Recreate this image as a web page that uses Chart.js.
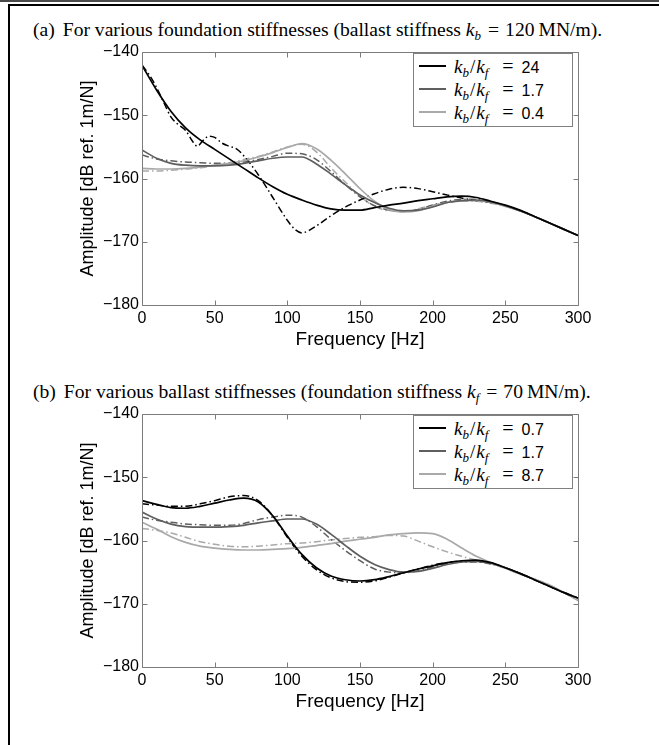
<!DOCTYPE html>
<html>
<head>
<meta charset="utf-8">
<script src="https://cdn.jsdelivr.net/npm/chart.js@4.4.1/dist/chart.umd.min.js"></script>
<style>
  html, body { margin: 0; padding: 0; background: #fff; }
  body { width: 659px; height: 745px; position: relative; overflow: hidden; }
  .rule { position: absolute; left: 0; top: 0; width: 659px; height: 2px; background: #4a4a4a; }
  .frame { position: absolute; left: 8px; top: 4px; width: 700px; height: 800px;
           border-left: 2px solid #000; border-top: 2px solid #000; }
  .caption { position: absolute; left: 33px; font-family: "Liberation Serif", "Times New Roman", serif;
             font-size: 19.6px; line-height: 22px; white-space: nowrap; color: #000; }
  .caption .tag { margin-right: 8px; }
  .caption .eq { margin: 0 6px 0 7px; }
  .caption .unit { margin-left: 4px; }
  .m { font-style: italic; }
  .sub { font-size: 13px; font-style: italic; position: relative; top: 4px; }
  .panel { position: absolute; left: 0; width: 659px; height: 360px; }
  .legend { position: absolute; left: 413px; width: 158px; height: 72px; border: 1px solid #808080;
            background: #fff; font-family: "Liberation Serif", serif; color: #000; }
  .row { position: absolute; left: 0; height: 22px; width: 100%; }
  .swatch { position: absolute; left: 5px; top: 10px; width: 27px; height: 0; border-top: 2px solid #000; }
  .label { position: absolute; left: 40px; top: 0; font-size: 19px; line-height: 22px; white-space: nowrap; }
  .label .sl { margin: 0 1px; }
  .label .eq { margin: 0 8px 0 14px; font-size: 20px; }
  .num { font-family: "Liberation Sans", Arial, sans-serif; font-size: 16px; }
</style>
</head>
<body>
<div class="rule"></div>
<div class="frame"></div>

<div class="caption" style="top:19px"><span class="tag">(a)</span>For various foundation stiffnesses (ballast stiffness <span class="m">k</span><span class="sub">b</span><span class="eq">=</span>120<span class="unit">MN/m).</span></div>
<div class="panel" style="top:0px"><canvas id="chartA" width="659" height="360"></canvas></div>
<div class="legend" id="legendA" style="top:53px"></div>

<div class="caption" style="top:381px"><span class="tag">(b)</span>For various ballast stiffnesses (foundation stiffness <span class="m">k</span><span class="sub">f</span><span class="eq">=</span>70<span class="unit">MN/m).</span></div>
<div class="panel" style="top:362px"><canvas id="chartB" width="659" height="360"></canvas></div>
<div class="legend" id="legendB" style="top:415px"></div>

<script>
// Frequency grid in Hz (10 Hz steps) shared by most curves
const freqHz = [0,10,20,30,40,50,60,70,80,90,100,110,120,130,140,150,160,170,180,190,200,210,220,230,240,250,260,270,280,290,300];

// Finer grid for the k_b/k_f = 24 dash-dot curve, which has sharp features
const freqFineHz = [0,5,10,15,20,25,30,35,38,42,46,50,55,60,65,70,80,90,100,105,110,115,120,
                    130,140,150,160,170,180,190,200,210,220,230,240,250,260,270,280,290,300];

// Y axis ticks (dB) and X axis ticks (Hz)
const ampTicks = [-180,-170,-160,-150,-140];
const freqTicks = [0,50,100,150,200,250,300];

// (a) various foundation stiffnesses, kb = 120 MN/m
const ratiosA = ['24', '1.7', '0.4'];
const aSolid24 = [-142.1,-146.0,-149.4,-152.0,-153.9,-155.4,-156.9,-158.4,-159.9,-161.3,-162.5,-163.4,-164.2,-164.8,-165.0,-165.0,-164.6,-164.2,-163.9,-163.5,-163.2,-162.9,-162.8,-163.0,-163.6,-164.2,-165.0,-166.0,-167.0,-168.0,-169.0];
const aDash24 = [-142.1,-143.6,-145.6,-148.0,-150.3,-151.5,-152.4,-154.2,-154.9,-154.0,-153.3,-153.5,-154.4,-154.9,-155.3,-156.4,
                 -159.4,-163.0,-166.6,-168.0,-168.6,-168.2,-167.5,
                 -165.9,-164.5,-163.4,-162.4,-161.7,-161.4,-161.6,-162.1,-162.6,-163.1,-163.5,-163.8,-164.3,-165.1,-166.0,-167.0,-168.0,-169.0];
const aSolid17 = [-155.5,-156.8,-157.6,-157.9,-158.0,-158.0,-157.9,-157.6,-157.2,-156.8,-156.6,-156.6,-157.7,-159.3,-161.0,-162.6,-163.8,-164.7,-165.1,-165.0,-164.5,-163.8,-163.5,-163.4,-163.7,-164.3,-165.1,-166.0,-167.0,-168.0,-169.0];
const aDash17 = [-156.3,-156.9,-157.2,-157.4,-157.5,-157.6,-157.6,-157.4,-157.0,-156.5,-156.0,-156.1,-157.0,-158.9,-161.0,-162.9,-164.3,-165.0,-165.2,-164.9,-164.2,-163.6,-163.3,-163.3,-163.7,-164.3,-165.1,-166.0,-167.0,-168.0,-169.0];
const aSolid04 = [-158.4,-158.5,-158.5,-158.4,-158.2,-157.9,-157.6,-157.2,-156.6,-155.9,-155.1,-154.5,-155.3,-157.1,-159.3,-161.6,-163.6,-164.9,-165.3,-165.1,-164.4,-163.8,-163.5,-163.5,-163.8,-164.4,-165.1,-166.0,-167.0,-168.0,-169.0];
const aDash04 = [-158.8,-158.8,-158.7,-158.5,-158.3,-157.9,-157.5,-157.0,-156.5,-155.8,-155.0,-154.6,-155.8,-158.3,-160.6,-162.8,-164.4,-165.1,-165.2,-164.8,-164.2,-163.8,-163.6,-163.6,-163.9,-164.4,-165.1,-166.0,-167.0,-168.0,-169.0];

// (b) various ballast stiffnesses, kf = 70 MN/m
const ratiosB = ['0.7', '1.7', '8.7'];
const bSolid07 = [-153.7,-154.3,-154.8,-154.9,-154.6,-154.1,-153.6,-153.3,-153.9,-156.1,-159.3,-162.2,-164.3,-165.6,-166.2,-166.4,-166.2,-165.7,-165.1,-164.5,-164.0,-163.5,-163.2,-163.1,-163.5,-164.3,-165.2,-166.2,-167.2,-168.2,-169.1];
const bDash07 = [-154.2,-154.4,-154.6,-154.6,-154.2,-153.7,-153.1,-152.9,-153.7,-156.1,-159.5,-162.5,-164.6,-165.9,-166.5,-166.6,-166.4,-165.8,-165.1,-164.5,-163.9,-163.5,-163.3,-163.3,-163.6,-164.3,-165.2,-166.2,-167.2,-168.2,-169.1];
const bSolid17 = [-155.5,-156.6,-157.4,-157.8,-157.9,-157.9,-157.8,-157.6,-157.2,-156.9,-156.6,-156.6,-157.4,-159.0,-160.8,-162.5,-163.8,-164.6,-165.0,-164.9,-164.4,-163.8,-163.4,-163.3,-163.6,-164.3,-165.2,-166.2,-167.2,-168.2,-169.1];
const bDash17 = [-156.3,-156.8,-157.1,-157.4,-157.5,-157.6,-157.6,-157.3,-156.7,-156.3,-156.0,-156.3,-157.8,-159.8,-161.6,-163.2,-164.5,-165.0,-165.1,-164.8,-164.2,-163.7,-163.4,-163.4,-163.7,-164.3,-165.2,-166.2,-167.2,-168.2,-169.1];
const bSolid87 = [-157.1,-158.2,-159.4,-160.3,-160.9,-161.2,-161.4,-161.5,-161.5,-161.4,-161.3,-161.1,-160.8,-160.5,-160.1,-159.8,-159.5,-159.1,-158.9,-158.8,-158.9,-159.8,-161.2,-162.5,-163.5,-164.4,-165.3,-166.1,-167.0,-168.2,-169.5];
const bDash87 = [-158.1,-158.4,-158.8,-159.5,-160.2,-160.6,-160.9,-161.0,-160.9,-160.7,-160.5,-160.4,-160.2,-159.9,-159.7,-159.5,-159.4,-159.2,-159.3,-160.1,-161.0,-161.8,-162.5,-163.1,-163.7,-164.4,-165.3,-166.1,-167.0,-168.2,-169.5];

const lineColors = ['#000000', '#5e5e5e', '#a9a9a9'];
const dashDot = [7, 3, 1.5, 3];
const sansFont = '"Liberation Sans", Arial, Helvetica, sans-serif';

function points(xs, ys) {
  return xs.map((x, i) => ({ x: x, y: ys[i] }));
}

function solid(xs, ys, color) {
  return { data: points(xs, ys), borderColor: color, borderWidth: 1.7, pointRadius: 0,
           cubicInterpolationMode: 'monotone', fill: false };
}
function dashed(xs, ys, color) {
  return { data: points(xs, ys), borderColor: color, borderWidth: 1.5, borderDash: dashDot,
           pointRadius: 0, cubicInterpolationMode: 'monotone', fill: false };
}

// Axes box with inward tick marks on all four sides
const boxTicks = {
  id: 'boxTicks',
  afterDatasetsDraw(chart) {
    const { ctx, chartArea: { left, right, top, bottom }, scales: { x, y } } = chart;
    ctx.save();
    ctx.strokeStyle = '#7c7c7c';
    ctx.lineWidth = 1;
    const L = Math.round(left) + 0.5, R = Math.round(right) + 0.5;
    const T = Math.round(top) + 0.5, B = Math.round(bottom) + 0.5;
    ctx.beginPath();
    ctx.rect(L, T, R - L, B - T);
    const len = 5;
    freqTicks.forEach(v => {
      const px = Math.round(x.getPixelForValue(v)) + 0.5;
      ctx.moveTo(px, B); ctx.lineTo(px, B - len);
      ctx.moveTo(px, T); ctx.lineTo(px, T + len);
    });
    ampTicks.forEach(v => {
      const py = Math.round(y.getPixelForValue(v)) + 0.5;
      ctx.moveTo(L, py); ctx.lineTo(L + len, py);
      ctx.moveTo(R, py); ctx.lineTo(R - len, py);
    });
    ctx.stroke();
    ctx.restore();
  }
};

function makeChart(id, datasets) {
  return new Chart(document.getElementById(id), {
    type: 'line',
    data: { datasets: datasets },
    plugins: [boxTicks],
    options: {
      responsive: false,
      animation: false,
      devicePixelRatio: 1,
      layout: { padding: { left: 66, right: 81, top: 52, bottom: 5 } },
      plugins: { legend: { display: false }, tooltip: { enabled: false } },
      scales: {
        x: {
          type: 'linear', min: 0, max: 300,
          afterFit(scale) { scale.height = 50; },
          afterBuildTicks(scale) { scale.ticks = freqTicks.map(v => ({ value: v })); },
          grid: { display: false, drawTicks: false }, border: { display: false },
          ticks: { padding: 4, color: '#000', maxRotation: 0, autoSkip: false,
                   font: { family: sansFont, size: 16 } },
          title: { display: true, text: 'Frequency [Hz]', color: '#000',
                   padding: { top: 0, bottom: 3.6 }, font: { family: sansFont, size: 19 } }
        },
        y: {
          type: 'linear', min: -180, max: -140,
          afterFit(scale) { scale.width = 76; },
          afterBuildTicks(scale) { scale.ticks = ampTicks.map(v => ({ value: v })); },
          grid: { display: false, drawTicks: false }, border: { display: false },
          ticks: { padding: 3, color: '#000', autoSkip: false,
                   font: { family: sansFont, size: 16 },
                   callback: v => String(v).replace('-', '\u2212') },
          title: { display: true, text: 'Amplitude [dB ref. 1m/N]', color: '#000',
                   padding: { top: 11.2, bottom: 0 }, font: { family: sansFont, size: 18 } }
        }
      }
    }
  });
}

makeChart('chartA', [
  solid(freqHz, aSolid24, lineColors[0]),
  solid(freqHz, aSolid17, lineColors[1]),
  solid(freqHz, aSolid04, lineColors[2]),
  dashed(freqFineHz, aDash24, lineColors[0]),
  dashed(freqHz, aDash17, lineColors[1]),
  dashed(freqHz, aDash04, lineColors[2])
]);

makeChart('chartB', [
  solid(freqHz, bSolid07, lineColors[0]),
  solid(freqHz, bSolid17, lineColors[1]),
  solid(freqHz, bSolid87, lineColors[2]),
  dashed(freqHz, bDash07, lineColors[0]),
  dashed(freqHz, bDash17, lineColors[1]),
  dashed(freqHz, bDash87, lineColors[2])
]);

// Legend entries: k_b/k_f = ratio, one per solid series
function buildLegend(id, ratios) {
  const box = document.getElementById(id);
  const rowTops = [1, 24, 47];
  ratios.forEach((r, i) => {
    const row = document.createElement('div');
    row.className = 'row';
    row.style.top = rowTops[i] + 'px';
    row.innerHTML =
      '<div class="swatch" style="border-top-color:' + lineColors[i] + '"></div>' +
      '<div class="label"><span class="m">k</span><span class="sub">b</span><span class="sl">/</span>' +
      '<span class="m">k</span><span class="sub">f</span><span class="eq">=</span><span class="num">' + r + '</span></div>';
    box.appendChild(row);
  });
}
buildLegend('legendA', ratiosA);
buildLegend('legendB', ratiosB);
</script>
</body>
</html>
